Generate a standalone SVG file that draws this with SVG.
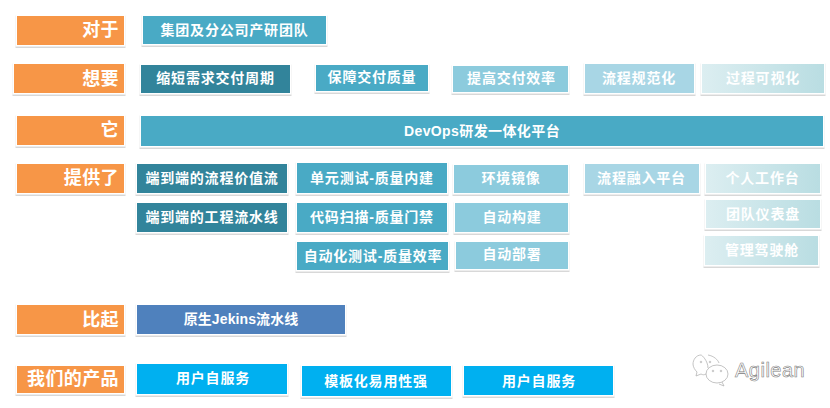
<svg xmlns="http://www.w3.org/2000/svg" width="830" height="408" viewBox="0 0 830 408">
<style>
text{font-family:"Liberation Sans","Noto Sans CJK SC",sans-serif;fill:#fff;text-anchor:middle;font-weight:700;font-size:14px;letter-spacing:.8px}
rect{stroke:#fff;stroke-width:3;paint-order:stroke;filter:url(#sh)}
text.o{font-size:18px;text-anchor:end;letter-spacing:.4px}
text.d{font-size:14px;letter-spacing:.4px}
text.j{letter-spacing:.1px}
.or{fill:#f79646}.te{fill:#4aaac5}.da{fill:#31849b}.me{fill:#8ccbdd}.li{fill:#a8d6e5}.bl{fill:#4f81bd}.cy{fill:#00b0f0}.gr{fill:url(#g)}
#logo *{fill:none;stroke:#aaa;stroke-width:.7}
#logo text{font-family:"Liberation Sans",sans-serif;font-size:20px;font-weight:400;text-anchor:start;fill:#fff;stroke:#808080;stroke-width:.6;letter-spacing:.5px}
</style>
<defs>
<linearGradient id="g"><stop offset="0" stop-color="#dceef1"/><stop offset="1" stop-color="#b9dde2"/></linearGradient>
<filter id="sh" x="-5%" y="-10%" width="110%" height="125%"><feDropShadow dx="0" dy="1" stdDeviation=".7" flood-color="#000" flood-opacity=".3"/></filter>
</defs>
<g id="l1"><rect class="or" x="17" y="16" width="107" height="29"/><text class="o" x="119" y="36">对于</text></g>
<g id="n1"><rect class="te" x="143" y="16" width="183" height="28"/><text x="234.5" y="35">集团及分公司产研团队</text></g>
<g id="l2"><rect class="or" x="14" y="64" width="110" height="29"/><text class="o" x="119" y="85">想要</text></g>
<g id="n2"><rect class="da" x="141" y="65" width="149" height="28"/><text x="215.5" y="83">缩短需求交付周期</text></g>
<g id="n3"><rect class="te" x="316" y="65" width="112" height="26"/><text x="372" y="82">保障交付质量</text></g>
<g id="n4"><rect class="me" x="453" y="66" width="115" height="26"/><text x="511.5" y="83">提高交付效率</text></g>
<g id="n5"><rect class="li" x="585" y="64" width="109" height="29"/><text x="639" y="83">流程规范化</text></g>
<g id="n6"><rect class="gr" x="702" y="64" width="122" height="29"/><text x="763" y="83">过程可视化</text></g>
<g id="l3"><rect class="or" x="17" y="116" width="107" height="29"/><text class="o" x="119" y="136">它</text></g>
<g id="n7"><rect class="te" x="141" y="116" width="682" height="30"/><text class="d" x="482" y="136">DevOps研发一体化平台</text></g>
<g id="l4"><rect class="or" x="17" y="164" width="107" height="29"/><text class="o" x="119" y="184">提供了</text></g>
<g id="n8"><rect class="da" x="137" y="164" width="150" height="29"/><text x="212" y="183">端到端的流程价值流</text></g>
<g id="n9"><rect class="da" x="137" y="203" width="150" height="29"/><text x="212" y="222">端到端的工程流水线</text></g>
<g id="n10"><rect class="te" x="297" y="163" width="150" height="30"/><text x="372" y="183">单元测试-质量内建</text></g>
<g id="n11"><rect class="te" x="297" y="203" width="150" height="29"/><text x="372" y="222">代码扫描-质量门禁</text></g>
<g id="n12"><rect class="te" x="297" y="242" width="151" height="28"/><text x="373" y="261">自动化测试-质量效率</text></g>
<g id="n13"><rect class="me" x="454" y="165" width="114" height="28"/><text x="511" y="183">环境镜像</text></g>
<g id="n14"><rect class="me" x="455" y="203" width="113" height="29"/><text x="512" y="222">自动构建</text></g>
<g id="n15"><rect class="me" x="456" y="242" width="112" height="27"/><text x="512" y="259">自动部署</text></g>
<g id="n16"><rect class="li" x="585" y="164" width="114" height="29"/><text x="641.5" y="183">流程融入平台</text></g>
<g id="n17"><rect class="gr" x="706" y="164" width="114" height="29"/><text x="762.5" y="183">个人工作台</text></g>
<g id="n18"><rect class="gr" x="706" y="200" width="114" height="28"/><text x="763" y="219">团队仪表盘</text></g>
<g id="n19"><rect class="gr" x="705" y="236" width="113" height="29"/><text x="762" y="255">管理驾驶舱</text></g>
<g id="l5"><rect class="or" x="17" y="305" width="107" height="29"/><text class="o" x="119" y="326">比起</text></g>
<g id="n20"><rect class="bl" x="137" y="305" width="208" height="29"/><text class="j" x="241" y="324">原生Jekins流水线</text></g>
<g id="l6"><rect class="or" x="17" y="366" width="107" height="27"/><text class="o" x="119" y="385">我们的产品</text></g>
<g id="n21"><rect class="cy" x="137" y="364" width="150" height="30"/><text x="213" y="383">用户自服务</text></g>
<g id="n22"><rect class="cy" x="302" y="366" width="149" height="30"/><text x="376" y="386">模板化易用性强</text></g>
<g id="n23"><rect class="cy" x="464" y="366" width="149" height="29"/><text x="539" y="386">用户自服务</text></g>
<g id="logo">
<path d="M708 368c0-7-6-13-7-13-5 0-8 5-8 9 0 3 2 6 4 8l-1 4 5-2c2 1 3 1 5 0"/>
<path d="M708 355c6 1 10 5 11 8"/>
<ellipse cx="717" cy="374" rx="11" ry="9"/>
<path d="M722 382l2 4-5-2"/>
<circle cx="701" cy="362" r=".8"/><circle cx="710" cy="362" r=".8"/><circle cx="713" cy="371" r=".8"/><circle cx="721" cy="371" r=".8"/>
<text x="735" y="377">Agilean</text>
</g>
</svg>
